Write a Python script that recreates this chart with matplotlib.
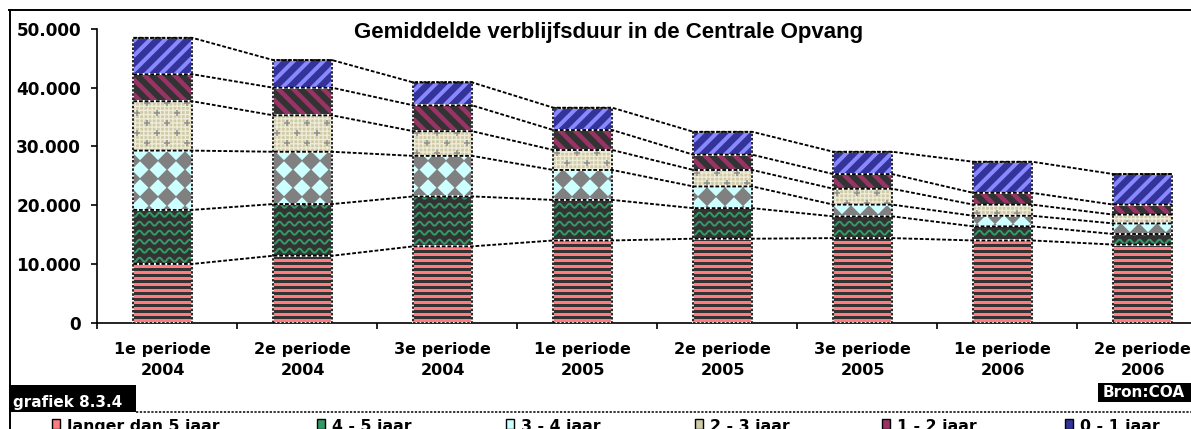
import numpy as np
import matplotlib.pyplot as plt
from matplotlib.collections import LineCollection, PolyCollection
from matplotlib.patches import Rectangle
from matplotlib.lines import Line2D
from matplotlib.ticker import FuncFormatter, MultipleLocator

# data
periodes = ['1e periode\n2004', '2e periode\n2004', '3e periode\n2004', '1e periode\n2005',
            '2e periode\n2005', '3e periode\n2005', '1e periode\n2006', '2e periode\n2006']
reeksen = ['langer dan 5 jaar', '4 - 5 jaar', '3 - 4 jaar', '2 - 3 jaar', '1 - 2 jaar', '0 - 1 jaar']

langer_5 = [10000, 11400, 13000, 14000, 14300, 14400, 14000, 13300]
jaar_4_5 = [9200, 8800, 8500, 6900, 5200, 3700, 2400, 1800]
jaar_3_4 = [10100, 8900, 6900, 5100, 3700, 2000, 1800, 1800]
jaar_2_3 = [8400, 6200, 4200, 3400, 2800, 2700, 1900, 1500]
jaar_1_2 = [4600, 4700, 4400, 3400, 2600, 2500, 2000, 1700]
jaar_0_1 = [6200, 4700, 3900, 3800, 3900, 3800, 5300, 5200]

titel = 'Gemiddelde verblijfsduur in de Centrale Opvang'
grafiek_nr = 'grafiek 8.3.4'
bron = 'Bron:COA'

# stijl per reeks: basiskleur, patroon, patroonkleur
stijlen = [
    ('#FF7C80', 'streep_h', '#333333'),
    ('#333333', 'golf', '#339966'),
    ('#CCFFFF', 'ruit', '#808080'),
    ('#CFCBA8', 'kruis', '#8C8C8C'),
    ('#333333', 'diag_af', '#993366'),
    ('#333399', 'diag_op', '#8888FF'),
]

W, H = 1191, 429
BOLD = 'DejaVu Sans'

fig = plt.figure(figsize=(W / 100, H / 100), dpi=100)
fig.patch.set_facecolor('white')
ax = fig.add_axes([97 / W, 1 - 322.7 / H, 1120 / W, (322.7 - 29) / H])
ax.set_xlim(-0.5, 7.5)
ax.set_ylim(0, 50000)

(ox, oy), (ex, ey) = ax.transData.transform([(0, 0), (1, 1)])
sx, sy = ex - ox, ey - oy  # pixels per data unit


def voeg_lijnen(patch, segs_px, kleur, dikte_px):
    segs = [[(px / sx, py / sy) for px, py in s] for s in segs_px]
    lc = LineCollection(segs, colors=kleur, linewidths=dikte_px * 0.72,
                        capstyle='butt', zorder=2)
    ax.add_collection(lc, autolim=False)
    lc.set_clip_path(patch)


def patroon(patch, soort, kleur):
    X0 = patch.get_x() * sx
    X1 = (patch.get_x() + patch.get_width()) * sx
    Y0 = patch.get_y() * sy
    Y1 = (patch.get_y() + patch.get_height()) * sy
    if soort == 'streep_h':
        ys = np.arange(np.floor(Y0 / 6) * 6, Y1 + 6, 6)
        voeg_lijnen(patch, [[(X0, y), (X1, y)] for y in ys], kleur, 3)
    elif soort == 'diag_op':
        cs = np.arange(np.floor((Y0 - X1) / 15) * 15, Y1 - X0 + 15, 15)
        voeg_lijnen(patch, [[(X0, X0 + c), (X1, X1 + c)] for c in cs], kleur, 4)
    elif soort == 'diag_af':
        cs = np.arange(np.floor((Y0 + X0) / 15) * 15, Y1 + X1 + 15, 15)
        voeg_lijnen(patch, [[(X0, c - X0), (X1, c - X1)] for c in cs], kleur, 4.5)
    elif soort == 'golf':
        ys = np.arange(np.floor(Y0 / 9) * 9, Y1 + 9, 9)
        xs = np.arange(X0 - 2, X1 + 2, 0.5)
        segs = [list(zip(xs, y + 2 * np.sin(2 * np.pi * xs / 10))) for y in ys]
        voeg_lijnen(patch, segs, kleur, 2)
    elif soort == 'ruit':
        polys = []
        for cx in np.arange(np.floor(X0 / 18) * 18, X1 + 18, 18):
            for cy in np.arange(np.floor(Y0 / 18) * 18, Y1 + 18, 18):
                d = 9.5
                polys.append([((cx - d) / sx, cy / sy), (cx / sx, (cy + d) / sy),
                              ((cx + d) / sx, cy / sy), (cx / sx, (cy - d) / sy)])
        pc = PolyCollection(polys, facecolors=kleur, edgecolors='none', zorder=2)
        ax.add_collection(pc, autolim=False)
        pc.set_clip_path(patch)
    elif soort == 'kruis':
        segs = []
        for cy in np.arange(np.floor(Y0 / 10) * 10, Y1 + 10, 10):
            off = 10 if int(round(cy / 10)) % 2 else 0
            for cx in np.arange(np.floor(X0 / 20) * 20 + off, X1 + 20, 20):
                segs.append([(cx - 3, cy), (cx + 3, cy)])
                segs.append([(cx, cy - 3), (cx, cy + 3)])
        voeg_lijnen(patch, segs, kleur, 1.5)


x = np.arange(len(periodes))
xb = x - 0.03  # kolommen staan iets links van het midden van de categorie
breedte = 0.42
waarden = [langer_5, jaar_4_5, jaar_3_4, jaar_2_3, jaar_1_2, jaar_0_1]
onder = np.zeros(len(periodes))
toppen = []
for vals, (basis, soort, kleur) in zip(waarden, stijlen):
    vals = np.array(vals, dtype=float)
    extra = {}
    if soort == 'kruis':
        extra = dict(hatch='++++', edgecolor='#EEEBD6')
    bars = ax.bar(xb, vals, breedte, bottom=onder, color=basis, linewidth=0, zorder=1, **extra)
    for p in bars.patches:
        patroon(p, soort, kleur)
    ax.bar(xb, vals, breedte, bottom=onder, fill=False, edgecolor='white', linewidth=1.3, zorder=3)
    onder = onder + vals
    toppen.append(onder.copy())

# zwarte stippelrand om elke kolom
ax.bar(xb, onder, breedte, fill=False, edgecolor='black', linestyle=(0, (1.5, 1)),
       linewidth=1.2, zorder=4)

# verbindingslijnen tussen de kolommen
for top in toppen:
    xs = np.ravel(np.column_stack([xb - breedte / 2, xb + breedte / 2]))
    ys = np.repeat(top, 2)
    ax.plot(xs, ys, color='black', linestyle=(0, (2, 1)), linewidth=1.35, zorder=5)

# assen
for s in ['top', 'right']:
    ax.spines[s].set_visible(False)
for s in ['left', 'bottom']:
    ax.spines[s].set_linestyle((0, (1.5, 1)))
    ax.spines[s].set_linewidth(1.2)
ax.yaxis.set_major_locator(MultipleLocator(10000))
ax.yaxis.set_major_formatter(FuncFormatter(lambda v, _: f'{int(v):,}'.replace(',', '.')))
ax.tick_params(axis='y', direction='out', length=4.5, width=1.2, pad=7,
               labelsize=12.2)
for t in ax.get_yticklabels():
    t.set_fontweight('bold')
    t.set_family(BOLD)
ax.set_xticks(xb)
ax.set_xticklabels(periodes, fontsize=11.5, fontweight='bold', family=BOLD, linespacing=1.45)
ax.set_xticks(np.arange(-0.5, len(periodes), 1), minor=True)
ax.tick_params(axis='x', which='major', length=0, pad=14)
ax.tick_params(axis='x', which='minor', direction='out', length=4.5, width=1.2)

# titel
fig.text(354 / W, 1 - 38 / H, titel, fontsize=16, fontweight='bold',
         family='Liberation Sans', ha='left', va='baseline')

# kader
fig.add_artist(Line2D([9 / W, 1], [1 - 9.5 / H, 1 - 9.5 / H], transform=fig.transFigure,
                      color='black', linewidth=1.4))
fig.add_artist(Line2D([9.5 / W, 9.5 / W], [0, 1 - 9.5 / H], transform=fig.transFigure,
                      color='black', linewidth=1.4))
fig.add_artist(Line2D([136 / W, 1], [1 - 412 / H, 1 - 412 / H], transform=fig.transFigure,
                      color='black', linewidth=1.1, linestyle=(0, (1.5, 1))))

# labels grafieknummer en bron
fig.add_artist(Rectangle((9 / W, 1 - 412 / H), 127 / W, 27 / H, transform=fig.transFigure,
                         facecolor='black', edgecolor='none'))
fig.text(13 / W, 1 - 403 / H, grafiek_nr, color='white', fontsize=11, fontweight='bold',
         family=BOLD, ha='left', va='center')
fig.add_artist(Rectangle((1098 / W, 1 - 402 / H), 100 / W, 19 / H, transform=fig.transFigure,
                         facecolor='black', edgecolor='none'))
fig.text(1103 / W, 1 - 392.5 / H, bron, color='white', fontsize=11, fontweight='bold',
         family=BOLD, ha='left', va='center')

# legenda onderaan (grotendeels afgesneden, zoals in het origineel)
leg_x = [52, 317, 506, 695, 882, 1065]
for lx, naam, (basis, soort, kleur) in zip(leg_x, reeksen, stijlen):
    icoon = kleur if basis == '#333333' else basis
    fig.add_artist(Rectangle((lx / W, 1 - 429 / H), 8 / W, 10 / H, transform=fig.transFigure,
                             facecolor=icoon, edgecolor='black', linewidth=1))
    fig.text((lx + 15) / W, 1 - 431 / H, naam, fontsize=11.3, fontweight='bold',
             family=BOLD, ha='left', va='baseline')

fig.savefig('out.png', dpi=100, facecolor='white')
